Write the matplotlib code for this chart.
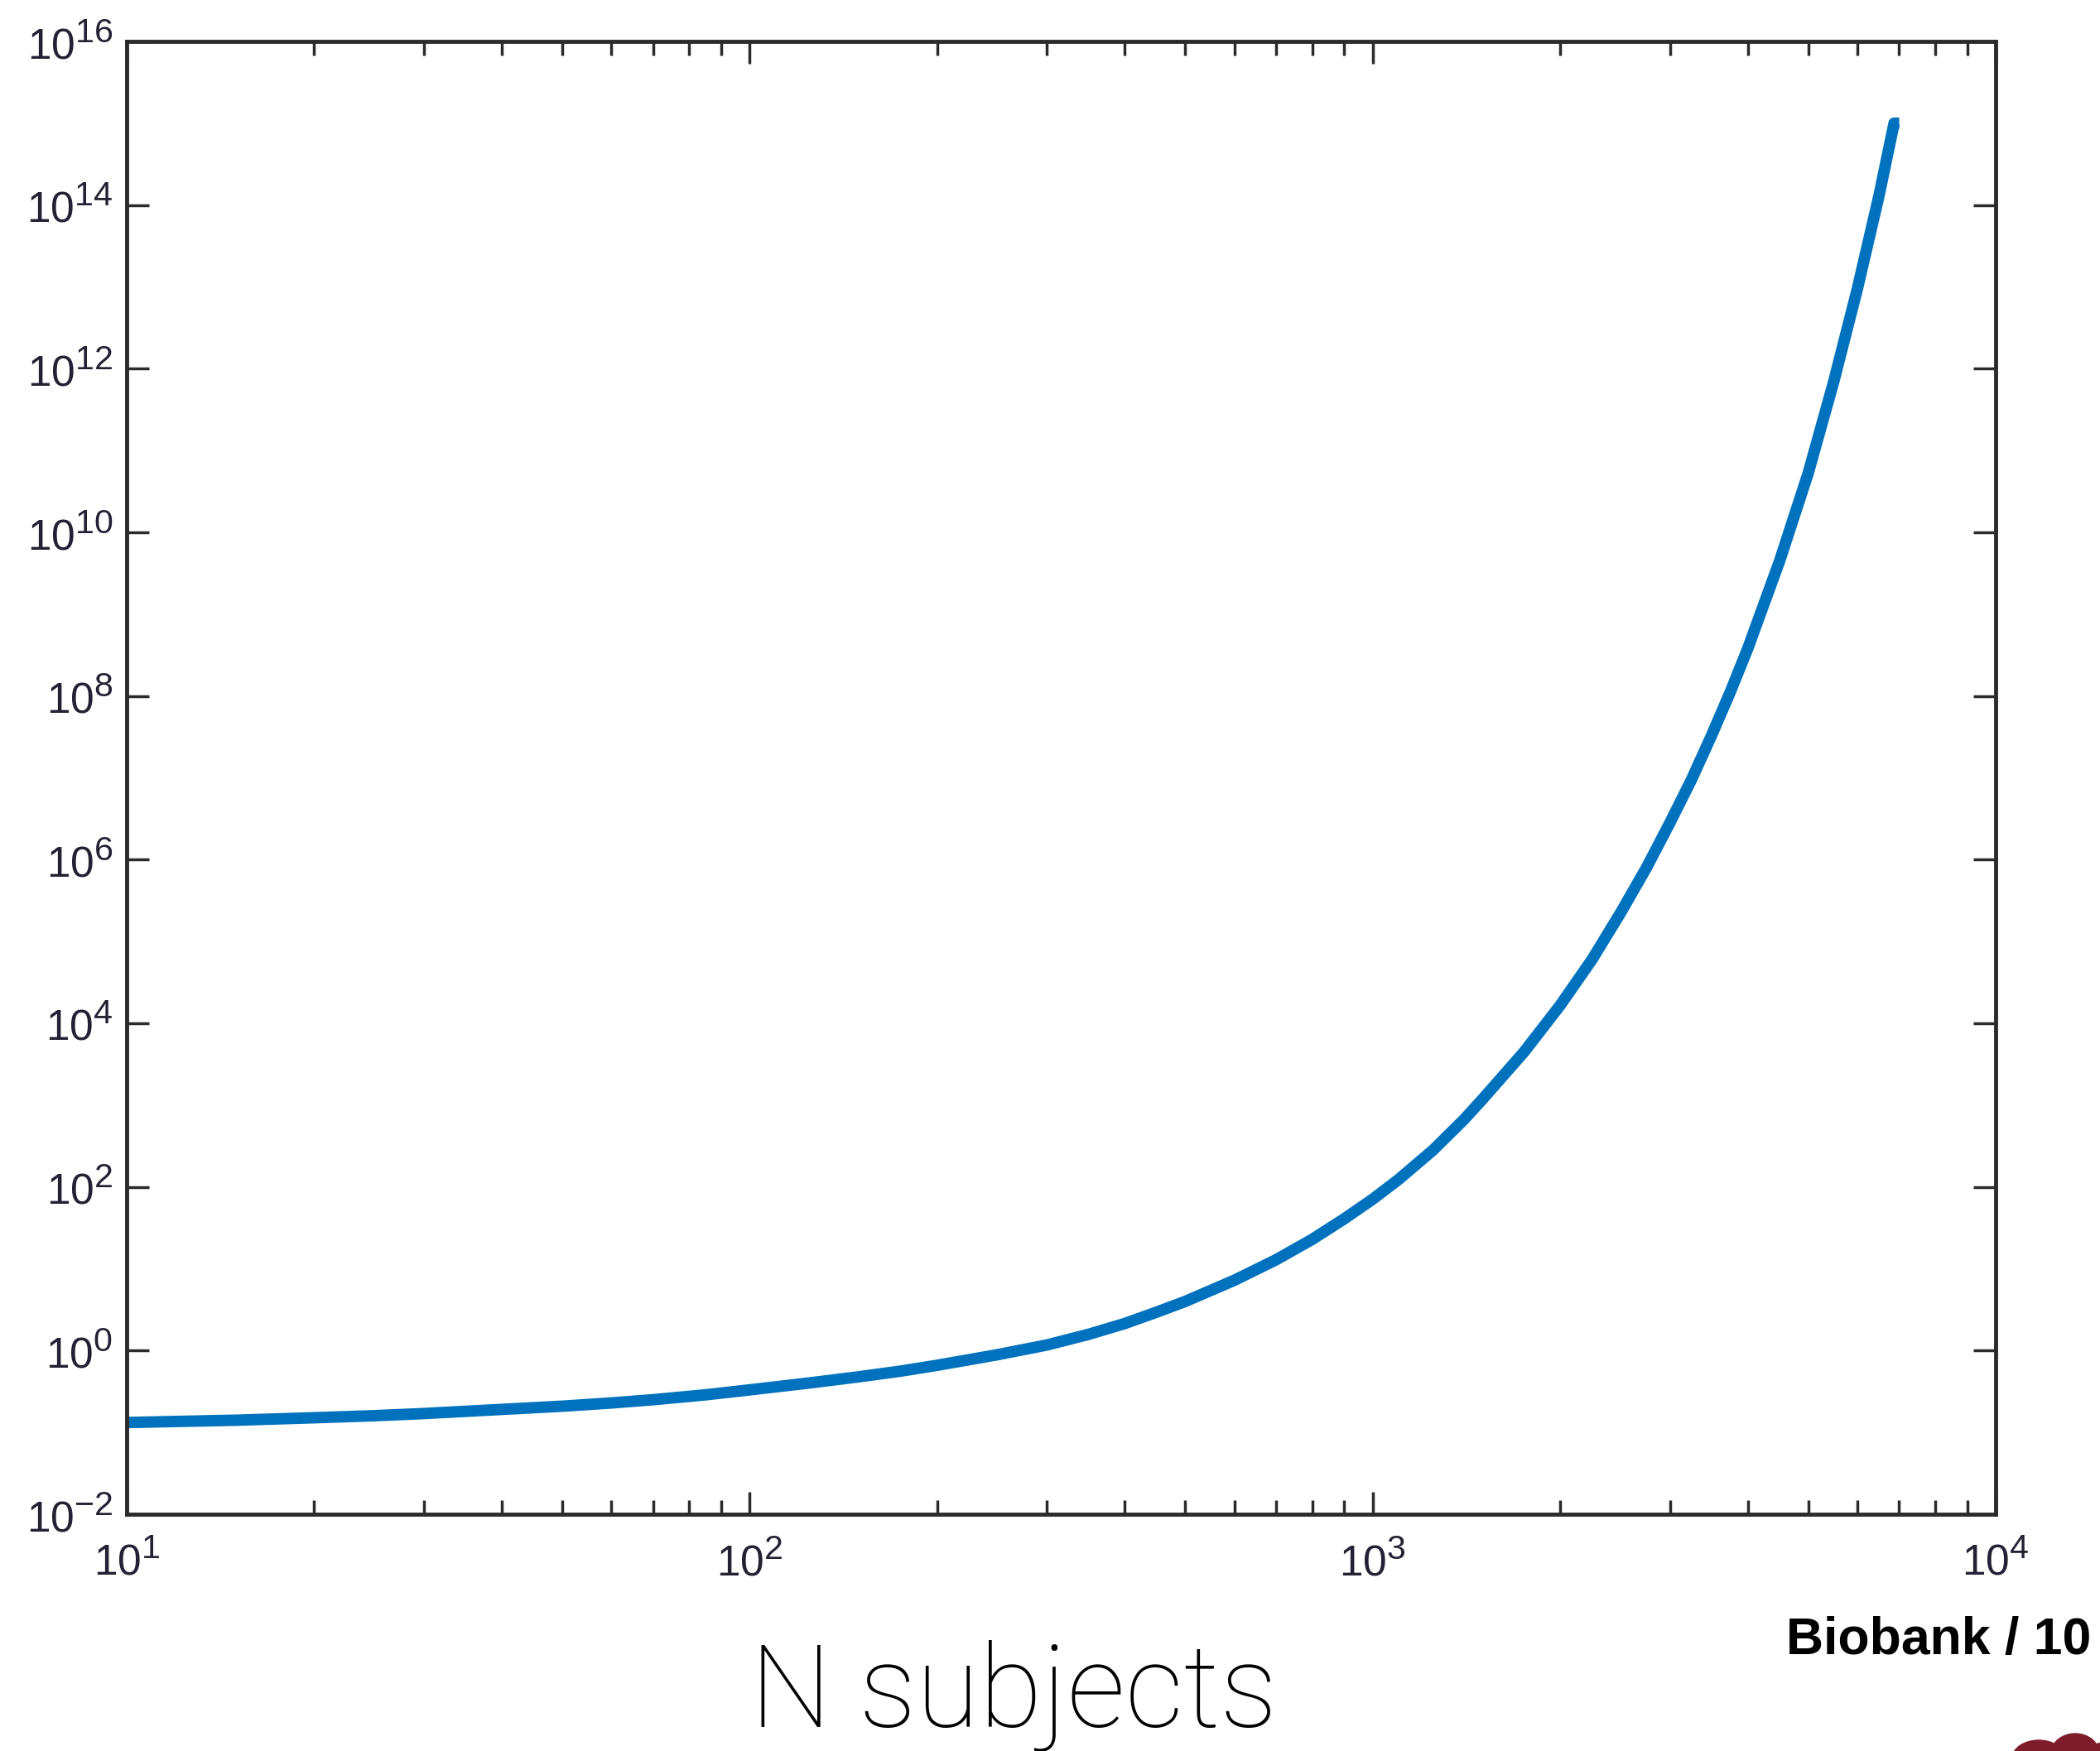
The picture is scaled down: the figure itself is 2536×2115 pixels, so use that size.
#!/usr/bin/env python3
"""Growth of the quantity with number of subjects (log-log), slide style."""

from __future__ import annotations

import math

import matplotlib

matplotlib.use("Agg")
import matplotlib.pyplot as plt
from matplotlib.patches import Ellipse
from matplotlib.ticker import FuncFormatter, LogLocator, NullLocator

# values
n_subjects = [10, 12, 15, 20, 25, 30, 40, 50, 60, 70, 85, 100, 125, 150, 175,
              200, 250, 300, 350, 400, 450, 500, 600, 700, 800, 900, 1000,
              1100, 1250, 1400, 1500, 1750, 2000, 2250, 2500, 2750, 3000,
              3250, 3500, 3750, 4000, 4500, 5000, 5500, 6000, 6500, 6870, 7000]
values = [0.132, 0.136, 0.141, 0.151, 0.160, 0.170, 0.191, 0.209, 0.229,
          0.251, 0.288, 0.331, 0.403, 0.479, 0.562, 0.661, 0.891, 1.17, 1.58,
          2.14, 2.95, 3.98, 7.24, 12.9, 22.9, 40.7, 70.8, 123, 282, 661, 1175,
          4470, 1.66e4, 6.03e4, 2.24e5, 7.94e5, 2.82e6, 9.55e6, 3.31e7,
          1.12e8, 3.80e8, 4.47e9, 5.25e10, 7.08e11, 9.55e12, 1.32e14, 1.0e15,
          1.0e15]

x_limits = [1e1, 1e4]
y_limits = [1e-2, 1e16]
y_ticks = [1e-2, 1e0, 1e2, 1e4, 1e6, 1e8, 1e10, 1e12, 1e14, 1e16]

x_label = "N subjects"
note = "Biobank / 10"

W, H = 2536, 2115
LINE_BLUE = "#0072BD"
AXIS_GREY = "#2b2b2b"


def _power_label(value, _pos):
    exp = int(round(math.log10(value)))
    return r"$\mathregular{10^{%d}}$" % exp


def _matlab_like_superscripts() -> None:
    # MATLAB draws exponents bigger and higher than mathtext does
    try:
        from matplotlib import _mathtext

        _mathtext.FontConstantsBase.subdrop = 0.0
        _mathtext.SHRINK_FACTOR = 0.8
    except (ImportError, AttributeError):
        pass


def render(output_path: str = "out.png") -> None:
    plt.rcParams["font.family"] = ["Liberation Sans", "DejaVu Sans"]
    plt.rcParams["mathtext.fontset"] = "custom"
    plt.rcParams["mathtext.rm"] = "Liberation Sans"
    _matlab_like_superscripts()

    fig = plt.figure(figsize=(W / 100, H / 100), dpi=100)
    ax = fig.add_axes([153 / W, 1 - 1829 / H, (2410 - 153) / W, (1829 - 50) / H])

    ax.plot(n_subjects, values, color=LINE_BLUE, lw=10,
            solid_capstyle="butt", solid_joinstyle="round")
    ax.set_xscale("log")
    ax.set_yscale("log")
    ax.set_xlim(x_limits)
    ax.set_ylim(y_limits)
    ax.set_yticks(y_ticks)
    ax.yaxis.set_minor_locator(NullLocator())
    ax.xaxis.set_minor_locator(LogLocator(base=10, subs=range(2, 10)))
    ax.xaxis.set_major_formatter(FuncFormatter(_power_label))
    ax.yaxis.set_major_formatter(FuncFormatter(_power_label))

    for side in ax.spines.values():
        side.set_linewidth(3.5)
        side.set_color(AXIS_GREY)

    ax.tick_params(which="both", direction="in", top=True, right=True,
                   color=AXIS_GREY, width=2.5, labelsize=37,
                   labelcolor="#222233")
    ax.tick_params(which="major", length=19.5)
    ax.tick_params(which="minor", length=12)
    ax.tick_params(axis="y", pad=12)
    ax.tick_params(axis="x", pad=23)

    fig.text(1224 / W, 1 - 2086 / H, x_label, ha="center", va="baseline",
             fontsize=100, family=["Roboto", "DejaVu Sans"], fontweight="light")
    fig.text(2525 / W, 1 - 1998 / H, note, ha="right", va="baseline",
             fontsize=45, fontweight="bold")

    # corner of the red logo peeking in at the bottom right
    for cx, cy, w, h in [(2462, 2124, 64, 44), (2506, 2118, 58, 48),
                         (2545, 2124, 50, 40)]:
        fig.add_artist(Ellipse((cx / W, 1 - cy / H), w / W, h / H,
                               transform=fig.transFigure, color="#7d1c2a"))

    fig.savefig(output_path, dpi=100)


def main() -> int:
    render()
    return 0


if __name__ == "__main__":
    raise SystemExit(main())
